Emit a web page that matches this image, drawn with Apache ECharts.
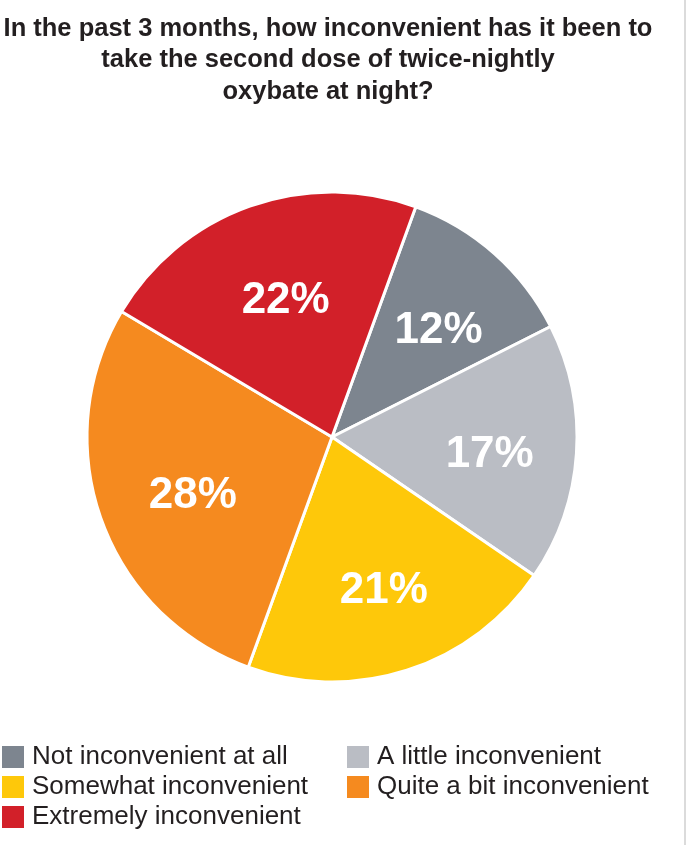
<!DOCTYPE html>
<html>
<head>
<meta charset="utf-8">
<script src="https://cdn.jsdelivr.net/npm/echarts@6/dist/echarts.min.js"></script>
<style>
html,body{margin:0;padding:0;background:#fff;}
#c{width:688px;height:845px;}
</style>
</head>
<body>
<div id="c"></div>
<script>
const titleText = "In the past 3 months, how inconvenient has it been to\ntake the second dose of twice-nightly\noxybate at night?";
const categories = ["Not inconvenient at all", "A little inconvenient", "Somewhat inconvenient", "Quite a bit inconvenient", "Extremely inconvenient"];
const values = [12, 17, 21, 28, 22];
const colors = ["#7d858f", "#babdc4", "#fec80a", "#f58a1f", "#d22029"];
const legendLeftCol = ["Not inconvenient at all", "Somewhat inconvenient", "Extremely inconvenient"];
const legendRightCol = ["A little inconvenient", "Quite a bit inconvenient"];

const data = categories.map((n, i) => ({ name: n, value: values[i], itemStyle: { color: colors[i] } }));
const ff = '"Liberation Sans", Arial, sans-serif';
const chart = echarts.init(document.getElementById('c'), null, { renderer: 'canvas' });
const legendCommon = {
  orient: 'vertical', top: 744, height: 101, padding: 0, icon: 'rect', itemWidth: 24, itemHeight: 24, itemGap: 4,
  selectedMode: false,
  textStyle: { fontFamily: ff, fontSize: 26, color: '#231f20', padding: [0, 0, 0, 2] }
};
chart.setOption({
  animation: false,
  backgroundColor: '#fff',
  title: {
    text: titleText, left: 323, top: 8, textAlign: 'center',
    textStyle: { fontFamily: ff, fontSize: 25.5, fontWeight: 'bold', color: '#231f20', lineHeight: 31.5, align: 'center' }
  },
  legend: [
    Object.assign({ left: 0, data: legendLeftCol }, legendCommon),
    Object.assign({ left: 345, data: legendRightCol }, legendCommon)
  ],
  graphic: [{
    type: 'line', shape: { x1: 685, y1: 0, x2: 685, y2: 845 },
    style: { stroke: '#cfcfcf', lineWidth: 1.5 }, silent: true
  }],
  series: [{
    type: 'pie', center: [332, 437], radius: [0, 245], startAngle: 70, clockwise: true,
    data: data, label: { show: false }, labelLine: { show: false },
    itemStyle: { borderColor: '#fff', borderWidth: 3 }, silent: true
  }, {
    type: 'pie', center: [332, 437], radius: [100, 200], startAngle: 70, clockwise: true,
    data: categories.map((n, i) => ({ name: n, value: values[i] })),
    itemStyle: { color: 'rgba(0,0,0,0)' }, silent: true, legendHoverLink: false,
    label: { show: true, position: 'inside', formatter: '{c}%', offset: [5, 8], fontFamily: ff, fontSize: 44, fontWeight: 'bold', color: '#fff' },
    labelLine: { show: false }
  }]
});
</script>
</body>
</html>
